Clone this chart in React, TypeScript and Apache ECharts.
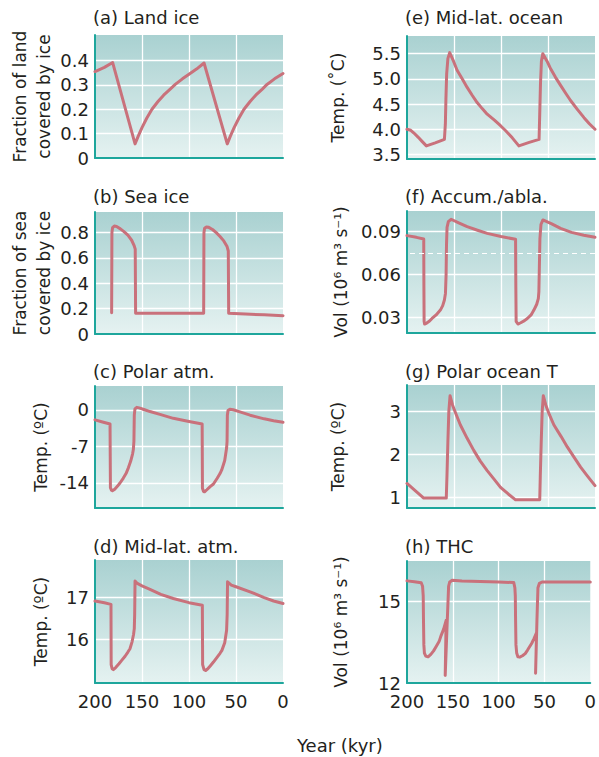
import React, { useEffect, useRef } from "react";
import * as echarts from "echarts";

// ---------- data (x = year in kyr before present, y = value) ----------
const YEAR_LABELS = [0, 50, 100, 150, 200];
const YEAR_GRID = [50, 100, 150];

const LAND_ICE = [
  [200, 0.355], [190, 0.372], [181.2, 0.392], [157.4, 0.058], [154, 0.09], [150, 0.125], [145, 0.163],
  [139.4, 0.2], [133, 0.232], [127, 0.258], [120, 0.283], [114.6, 0.302], [107, 0.325], [100.4, 0.343],
  [92, 0.365], [84, 0.39], [59.3, 0.058], [56, 0.09], [52, 0.125], [47, 0.163], [41.5, 0.2], [35, 0.232],
  [29, 0.258], [22, 0.283], [17, 0.302], [9, 0.325], [0, 0.347],
];
const SEA_ICE = [
  [182.3, 0.168], [182.0, 0.8], [181.3, 0.84], [179.5, 0.852], [177, 0.848], [173, 0.83], [169.5, 0.81],
  [165, 0.78], [161, 0.74], [158.5, 0.7], [157.2, 0.67], [156.8, 0.163], [150, 0.163], [120, 0.163],
  [84.4, 0.163], [84.1, 0.8], [83.4, 0.835], [81.5, 0.845], [79, 0.842], [75, 0.825], [71, 0.8], [67, 0.77],
  [63, 0.735], [59.5, 0.69], [58.2, 0.655], [57.8, 0.163], [40, 0.157], [20, 0.151], [0, 0.145],
];
const POLAR_ATM = [
  [200, -1.9], [192, -2.3], [184, -2.7], [183.6, -14.9], [182.5, -15.4], [181.5, -15.5], [179, -15.2],
  [176, -14.6], [173.4, -14.0], [170, -13.1], [167, -12.2], [164.5, -11.1], [162, -9.8], [160, -8.4],
  [159.2, -7.6], [158.6, -6], [158.2, -1], [157.5, 0.2], [155.5, 0.5], [153, 0.4], [148, 0.1], [141.5, -0.3],
  [130, -0.9], [116.7, -1.6], [100, -2.2], [86, -2.7], [85.7, -15.0], [84.6, -15.6], [83.5, -15.7],
  [81, -15.3], [77.5, -14.7], [74, -14.2], [70, -13.1], [67, -12.2], [65.2, -11.5], [62, -9.7], [60, -7.3],
  [59.5, -6], [59.2, -1], [58.5, -0.1], [56.5, 0.15], [53, 0.05], [45, -0.4], [35, -1.0], [20, -1.7],
  [10, -2.05], [0, -2.35],
];
const MIDLAT_ATM = [
  [200, 16.92], [190, 16.88], [183, 16.84], [182.8, 15.4], [181.8, 15.3], [180.5, 15.28], [178, 15.33],
  [174.5, 15.42], [171.6, 15.5], [168, 15.6], [165, 15.7], [162.8, 15.78], [160.5, 15.95], [159, 16.12],
  [158.2, 16.26], [157.8, 16.6], [157.4, 17.4], [155, 17.34], [150, 17.28], [141.5, 17.2], [130, 17.08],
  [116.7, 16.98], [100, 16.88], [85.8, 16.82], [85.5, 15.4], [84, 15.28], [82.3, 15.26], [80, 15.3],
  [77, 15.38], [74, 15.46], [70, 15.58], [67, 15.67], [65, 15.74], [62, 15.92], [60, 16.22], [59.4, 16.6],
  [59, 17.38], [55, 17.3], [50, 17.26], [35, 17.14], [20, 17.0], [10, 16.92], [0, 16.86],
];
const MIDLAT_OCEAN = [
  [200, 4.0], [196, 3.98], [192.9, 3.93], [188, 3.84], [184, 3.76], [179.4, 3.67], [170, 3.73], [160.2, 3.8],
  [159.2, 4.1], [158.6, 4.6], [157.8, 5.1], [156.5, 5.4], [154.6, 5.52], [150.5, 5.35], [146.7, 5.17],
  [141, 4.99], [136, 4.83], [130.5, 4.67], [125.4, 4.53], [120, 4.41], [114.7, 4.3], [107, 4.18],
  [100.5, 4.07], [95, 3.97], [88, 3.83], [81, 3.67], [70, 3.74], [59.5, 3.8], [58.8, 4.3], [58, 4.9],
  [57, 5.35], [55.5, 5.5], [51, 5.35], [47.2, 5.2], [42, 5.03], [36.6, 4.87], [31, 4.71], [26, 4.57],
  [19, 4.4], [11.7, 4.23], [6, 4.11], [0, 4.0],
];
const ACCUM_ABLA = [
  [200, 0.0872], [190, 0.086], [182.2, 0.0848], [182.0, 0.05], [181.8, 0.027], [181.3, 0.0251],
  [179, 0.0258], [176, 0.0272], [173.4, 0.029], [169, 0.0315], [164.5, 0.0349], [162, 0.038], [160.2, 0.042],
  [159.1, 0.0466], [158.4, 0.06], [158, 0.08], [157.4, 0.093], [156, 0.097], [153.1, 0.0987], [145, 0.0962],
  [136, 0.0935], [125, 0.091], [114.7, 0.0888], [100, 0.0866], [84.5, 0.0846], [84.2, 0.05], [83.9, 0.027],
  [82, 0.0251], [79, 0.026], [75, 0.0275], [72, 0.029], [68, 0.0315], [65, 0.0349], [62, 0.039],
  [60.3, 0.043], [59.7, 0.0478], [59.2, 0.065], [58.6, 0.085], [57.5, 0.095], [55.4, 0.0982], [46, 0.0955],
  [36.6, 0.0923], [25, 0.0895], [12, 0.0875], [0, 0.086],
];
const ACCUM_THRESHOLD = 0.075;
const POLAR_OCEAN = [
  [200, 1.33], [191, 1.16], [182.2, 0.99], [170, 0.99], [158.2, 0.99], [157.5, 1.5], [156.5, 2.3],
  [155.5, 3.0], [154.2, 3.37], [151.5, 3.15], [148, 2.95], [143.2, 2.69], [136, 2.38], [129, 2.1],
  [122, 1.85], [114.7, 1.63], [107, 1.42], [100.5, 1.24], [92, 1.08], [84.5, 0.95], [70, 0.95],
  [58.8, 0.95], [58.2, 1.5], [57.2, 2.3], [56.2, 3.0], [55, 3.37], [52.3, 3.15], [48.5, 2.93],
  [43.7, 2.69], [36, 2.42], [29.5, 2.18], [22, 1.93], [15.3, 1.71], [8, 1.5], [0, 1.28],
];
const THC = [
  [200, 15.75], [192, 15.72], [184.5, 15.68], [183, 15.55], [182.3, 15.2], [182, 14.3], [181.6, 13.4],
  [181, 13.1], [179.5, 12.99], [177, 12.96], [174, 13.05], [171, 13.18], [168, 13.35], [165, 13.52],
  [162.7, 13.75], [160, 13.98], [157.3, 14.3], [158.3, 12.28], [156.5, 13.9], [154.6, 15.55], [153.5, 15.7],
  [151, 15.77], [140, 15.75], [120, 15.73], [100, 15.71], [83.5, 15.69], [82.3, 15.5], [81.8, 15.2],
  [81.5, 14.3], [81.1, 13.4], [80.3, 13.1], [79, 12.96], [77, 12.95], [74, 13.0], [71, 13.08], [68.6, 13.2],
  [64, 13.45], [61.4, 13.63], [58.6, 13.85], [59.7, 12.36], [58.2, 14.3], [57.1, 15.5], [55.5, 15.66],
  [52.6, 15.71], [40, 15.71], [20, 15.71], [0, 15.71],
];

const LAND_ICE_TICKS = [0, 0.1, 0.2, 0.3, 0.4];
const SEA_ICE_TICKS = [0, 0.2, 0.4, 0.6, 0.8];
const POLAR_ATM_TICKS = [-14, -7, 0];
const MIDLAT_ATM_TICKS = [16, 17];
const MIDLAT_OCEAN_TICKS = [3.5, 4.0, 4.5, 5.0, 5.5];
const ACCUM_TICKS = [0.03, 0.06, 0.09];
const POLAR_OCEAN_TICKS = [1, 2, 3];
const THC_TICKS = [12, 15];

// ---------- layout / styling ----------
const FONT = "DejaVu Sans";
const TEXT = "#231f20";
const LINE = "#c9717b";
const AXIS = "#1ea69c";

const L_LEFT = 95;
const R_LEFT = 407;
const W = 188;

type Panel = {
  title: string;
  titleTop: number;
  left: number;
  top: number;
  height: number;
  data: number[][];
  min: number;
  max: number;
  labels: number[];
  grid: number[];
  name: string;
  nameGap: number;
  nameLineHeight: number;
  xLabels: boolean;
  fmt?: (v: number) => string;
  mark?: number;
};

const PANELS: Panel[] = [
  { title: "(a) Land ice", titleTop: 6, left: L_LEFT, top: 35, height: 123, data: LAND_ICE, min: 0, max: 0.505,
    labels: LAND_ICE_TICKS, grid: [0.1, 0.2, 0.3, 0.4], name: "Fraction of land\ncovered by ice", nameGap: 38,
    nameLineHeight: 24, xLabels: false },
  { title: "(b) Sea ice", titleTop: 185, left: L_LEFT, top: 212, height: 122, data: SEA_ICE, min: 0, max: 0.963,
    labels: SEA_ICE_TICKS, grid: [0.2, 0.4, 0.6, 0.8], name: "Fraction of sea\ncovered by ice", nameGap: 38,
    nameLineHeight: 24, xLabels: false },
  { title: "(c) Polar atm.", titleTop: 360, left: L_LEFT, top: 386, height: 122, data: POLAR_ATM, min: -18.8, max: 4.6,
    labels: POLAR_ATM_TICKS, grid: POLAR_ATM_TICKS, name: "Temp. (ºC)", nameGap: 44, nameLineHeight: 20, xLabels: false },
  { title: "(d) Mid-lat. atm.", titleTop: 535, left: L_LEFT, top: 560, height: 123, data: MIDLAT_ATM, min: 14.96, max: 17.9,
    labels: MIDLAT_ATM_TICKS, grid: MIDLAT_ATM_TICKS, name: "Temp. (ºC)", nameGap: 44, nameLineHeight: 20, xLabels: true },
  { title: "(e) Mid-lat. ocean", titleTop: 6, left: R_LEFT, top: 36, height: 123, data: MIDLAT_OCEAN, min: 3.41, max: 5.85,
    labels: MIDLAT_OCEAN_TICKS, grid: MIDLAT_OCEAN_TICKS, name: "Temp. (˚C)", nameGap: 59, nameLineHeight: 20, xLabels: false,
    fmt: (v: number) => v.toFixed(1) },
  { title: "(f) Accum./abla.", titleTop: 185, left: R_LEFT, top: 211, height: 122, data: ACCUM_ABLA, min: 0.0188, max: 0.1045,
    labels: ACCUM_TICKS, grid: ACCUM_TICKS, name: "Vol (10⁶ m³ s⁻¹)", nameGap: 56, nameLineHeight: 20, xLabels: false,
    fmt: (v: number) => v.toFixed(2), mark: ACCUM_THRESHOLD },
  { title: "(g) Polar ocean T", titleTop: 360, left: R_LEFT, top: 385, height: 123, data: POLAR_OCEAN, min: 0.76, max: 3.62,
    labels: POLAR_OCEAN_TICKS, grid: POLAR_OCEAN_TICKS, name: "Temp. (ºC)", nameGap: 59, nameLineHeight: 20, xLabels: false },
  { title: "(h) THC", titleTop: 535, left: R_LEFT, top: 561, height: 122, data: THC, min: 12, max: 16.48,
    labels: THC_TICKS, grid: [15], name: "Vol (10⁶ m³ s⁻¹)", nameGap: 56, nameLineHeight: 20, xLabels: true },
];

function buildOption() {
  const bg = new echarts.graphic.LinearGradient(0, 0, 0, 1, [
    { offset: 0, color: "#a9d1d1" },
    { offset: 1, color: "#e5f2f1" },
  ]);
  const titles: any[] = PANELS.map((p) => ({
    text: p.title,
    left: p.left - 2,
    top: p.titleTop,
    padding: 0,
    textStyle: { fontFamily: FONT, fontSize: 18, fontWeight: "normal", color: TEXT, lineHeight: 22 },
  }));
  titles.push({
    text: "Year (kyr)",
    left: 297,
    top: 734,
    padding: 0,
    textStyle: { fontFamily: FONT, fontSize: 18, fontWeight: "normal", color: TEXT, lineHeight: 22 },
  });

  return {
    animation: false,
    title: titles,
    grid: PANELS.map((p) => ({
      left: p.left,
      top: p.top,
      width: W,
      height: p.height,
      show: true,
      backgroundColor: bg,
      borderWidth: 0,
    })),
    xAxis: PANELS.map((p, i) => ({
      type: "value",
      gridIndex: i,
      min: 0,
      max: 200,
      inverse: true,
      axisLine: { show: true, onZero: false, lineStyle: { color: AXIS, width: 2 } },
      axisTick: { show: false, customValues: YEAR_GRID },
      splitLine: { show: true, lineStyle: { color: "#ffffff", width: 1.3 } },
      axisLabel: {
        show: p.xLabels,
        customValues: YEAR_LABELS,
        margin: 9,
        fontFamily: FONT,
        fontSize: 18,
        color: TEXT,
      },
    })),
    yAxis: PANELS.map((p, i) => ({
      type: "value",
      gridIndex: i,
      min: p.min,
      max: p.max,
      name: p.name,
      nameLocation: "middle",
      nameRotate: 90,
      nameGap: p.nameGap,
      nameTextStyle: { fontFamily: FONT, fontSize: 17, color: TEXT, lineHeight: p.nameLineHeight },
      axisLine: { show: true, onZero: false, lineStyle: { color: AXIS, width: 2 } },
      axisTick: { show: false, customValues: p.grid },
      splitLine: { show: true, lineStyle: { color: "#ffffff", width: 1.3 } },
      axisLabel: {
        customValues: p.labels,
        margin: 6,
        fontFamily: FONT,
        fontSize: 18,
        color: TEXT,
        formatter: p.fmt ? (v: number) => p.fmt!(v) : undefined,
      },
    })),
    series: PANELS.map((p, i) => ({
      type: "line",
      xAxisIndex: i,
      yAxisIndex: i,
      data: p.data,
      showSymbol: false,
      symbol: "none",
      lineStyle: { color: LINE, width: 3, join: "round", cap: "round" },
      z: 3,
      markLine:
        p.mark !== undefined
          ? {
              silent: true,
              precision: 4,
              symbol: ["none", "none"],
              label: { show: false },
              lineStyle: { color: "#ffffff", type: [5, 4], width: 1.2 },
              data: [{ yAxis: p.mark }],
            }
          : undefined,
    })),
  };
}

export default function App() {
  const ref = useRef<HTMLDivElement>(null);
  useEffect(() => {
    if (!ref.current) return;
    const chart = echarts.init(ref.current, null, { renderer: "svg" });
    chart.setOption(buildOption() as any);
    return () => chart.dispose();
  }, []);
  return (
    <div
      ref={ref}
      style={{ position: "absolute", left: 0, top: 0, width: 599, height: 757, background: "#ffffff" }}
    />
  );
}
